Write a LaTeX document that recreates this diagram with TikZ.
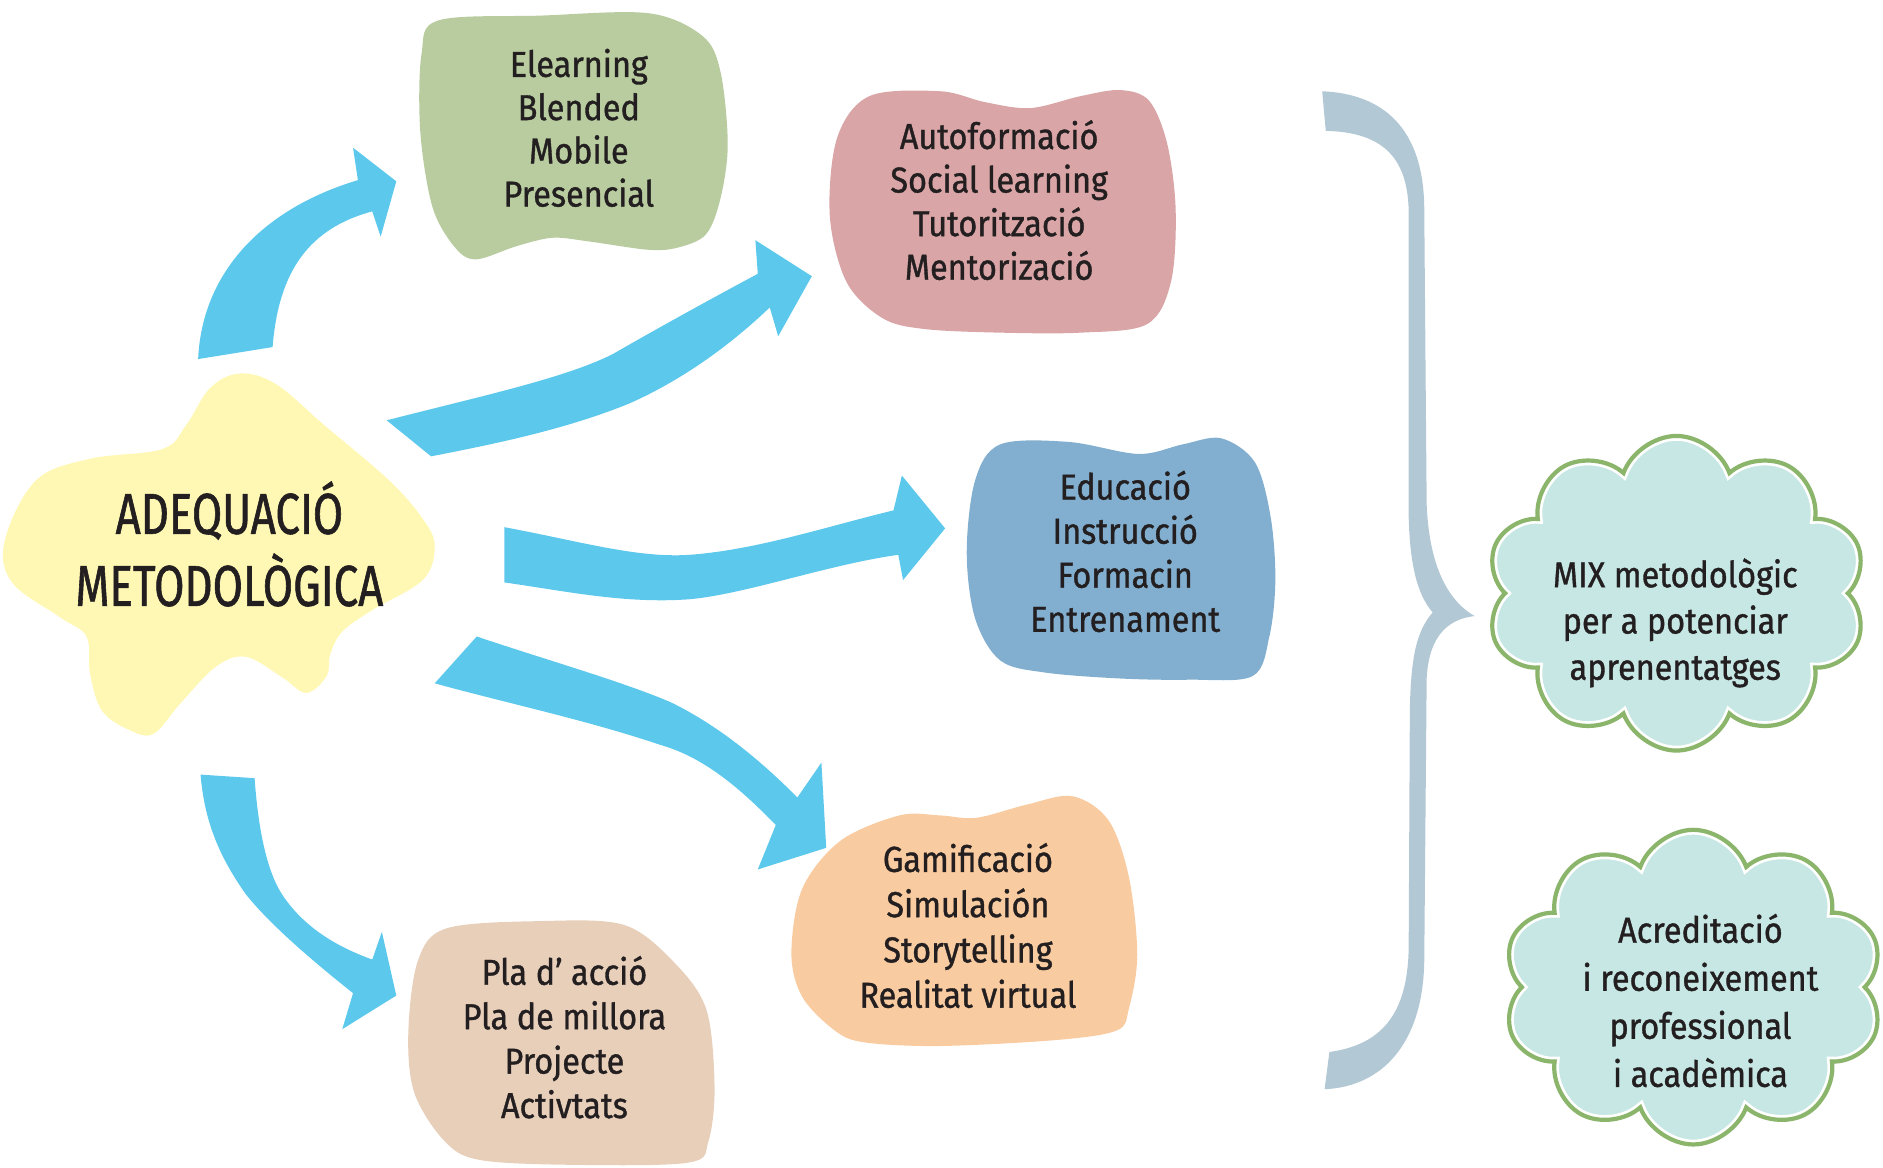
\documentclass[tikz,border=0pt]{standalone}
\usepackage{fontspec}
\setmainfont{Fira Sans}[FakeStretch=0.9,FakeBold=1]
\newfontfamily\titlefont{Fira Sans}[FakeStretch=0.76,FakeBold=1]
\usetikzlibrary{shapes.symbols}
\definecolor{ink}{HTML}{231F20}
\definecolor{yel}{HTML}{FFF8B4}
\definecolor{grn}{HTML}{B8CCA0}
\definecolor{pnk}{HTML}{D9A5A6}
\definecolor{blu}{HTML}{82AFCF}
\definecolor{org}{HTML}{F9CBA1}
\definecolor{bge}{HTML}{E8CFBA}
\definecolor{arr}{HTML}{5BC8EC}
\definecolor{brc}{HTML}{B3C8D5}
\definecolor{cfill}{HTML}{C6E7E4}
\definecolor{cline}{HTML}{8AB56A}
\begin{document}
\begin{tikzpicture}[x=1pt,y=-1pt,
  txt/.style={align=center,text=ink,inner sep=0pt,font=\fontsize{30}{#1}\selectfont},
  cloudsh/.style={cloud,cloud puffs=10,cloud puff arc=140,cloud ignores aspect,
    minimum width=317pt,minimum height=262pt,inner sep=0pt,shape border rotate=8}]
\useasboundingbox (0,0) rectangle (1568,972);

% ---- blobs ----
\fill[yel] plot[smooth cycle,tension=0.6] coordinates {(200,311) (230,320) (270,354) (324,400) (352,432) (362,455) (352,483) (310,508) (285,526) (275,545) (272,563) (255,577) (235,564) (205,547) (180,555) (150,586) (128,611) (108,608) (85,592) (75,561) (72,530) (50,514) (10,485) (4,450) (30,400) (75,382) (135,374) (155,354) (175,323)};

\fill[grn] plot[smooth cycle,tension=0.55] coordinates {(365,17) (450,13) (540,11) (585,30) (600,60) (606,120) (600,165) (588,195) (565,206) (540,208) (490,201) (460,198) (430,205) (396,216) (378,205) (360,172) (350,110) (351,45)};

\fill[pnk] plot[smooth cycle,tension=0.55] coordinates {(724,80) (783,76) (820,85) (858,90) (900,80) (933,75) (957,84) (972,120) (979,175) (975,235) (955,270) (900,277) (833,277) (770,274) (735,265) (705,235) (691,180) (697,115)};

\fill[blu] plot[smooth cycle,tension=0.55] coordinates {(833,370) (890,368) (948,378) (985,370) (1017,365) (1045,385) (1058,430) (1062,483) (1057,530) (1043,563) (990,566) (933,565) (870,560) (833,550) (812,515) (805,460) (812,400)};

\fill[org] plot[smooth cycle,tension=0.55] coordinates {(749,679) (783,679) (813,681) (855,670) (893,663) (923,683) (940,730) (947,795) (940,840) (930,858) (880,866) (783,871) (720,868) (695,858) (668,830) (659,794) (668,740) (700,700)};

\fill[bge] plot[smooth cycle,tension=0.55] coordinates {(372,773) (450,767) (519,770) (560,800) (588,840) (595,904) (590,950) (574,968) (480,970) (400,966) (370,950) (345,910) (340,860) (348,800)};

% ---- arrows ----
\fill[arr] (165,299) .. controls (168,230) and (215,175) .. (298,150) -- (294,123) -- (330,151) -- (317,197) -- (310,176) .. controls (258,190) and (232,225) .. (227,289) -- cycle;

\fill[arr] (322,350) .. controls (400,330) and (470,315) .. (510,295) .. controls (550,272) and (590,250) .. (631,228) -- (629,200) -- (676,230) -- (648,280) -- (641,256) .. controls (600,295) and (560,320) .. (524,336) .. controls (470,358) and (410,370) .. (359,380) -- cycle;

\fill[arr] (420,439) .. controls (480,450) and (530,465) .. (574,462) .. controls (630,458) and (690,438) .. (744,425) -- (751,396) -- (787,440) -- (752,483) -- (748,462) .. controls (690,470) and (620,495) .. (574,499) .. controls (520,503) and (470,492) .. (420,485) -- cycle;

\fill[arr] (397,530) .. controls (450,548) and (520,568) .. (559,585) .. controls (600,605) and (635,635) .. (664,664) -- (684,635) -- (688,706) -- (631,724) -- (646,687) .. controls (615,655) and (585,630) .. (549,620) .. controls (490,600) and (420,585) .. (362,569) -- cycle;

\fill[arr] (212,648) .. controls (215,690) and (222,725) .. (235,745) .. controls (255,775) and (285,790) .. (310,799) -- (318,776) -- (330,829) -- (285,857) -- (294,827) .. controls (260,800) and (225,770) .. (205,745) .. controls (180,710) and (170,680) .. (167,645) -- cycle;

% ---- brace ----
\fill[brc] (1101,76) .. controls (1150,78) and (1186,105) .. (1186,175) -- (1188,420)
  .. controls (1190,470) and (1205,500) .. (1228,513)
  .. controls (1210,515) and (1190,525) .. (1188,565) -- (1186,800)
  .. controls (1185,870) and (1150,905) .. (1103,907) -- (1107,876)
  .. controls (1150,870) and (1172,845) .. (1173,790) -- (1174,590)
  .. controls (1175,545) and (1180,525) .. (1193,510)
  .. controls (1180,495) and (1174,470) .. (1173,430) -- (1173,175)
  .. controls (1172,130) and (1150,110) .. (1104,109) -- cycle;

% ---- clouds ----
\node[cloudsh,fill=cfill,draw=white,line width=8pt] (c1bg) at (1396,494) {};
\node[cloudsh,draw=cline,line width=3.5pt] (c1) at (1396,494) {};
\node[cloudsh,fill=cfill,draw=white,line width=8pt] (c2bg) at (1410,822) {};
\node[cloudsh,draw=cline,line width=3.5pt] (c2) at (1410,822) {};

% ---- texts ----
\node[align=center,text=ink,inner sep=0pt,font=\titlefont\fontsize{48}{51}\selectfont] (title) at (191,460.3) {\strut ADEQUACIÓ\\METODOLÒGICA\strut};
\node[txt=36] (tg) at (482,110.8) {\strut Elearning\\Blended\\Mobile\\Presencial\strut};
\node[txt=36.3] (tp) at (832,171.2) {\strut Autoformació\\Social learning\\Tutorització\\Mentorizació\strut};
\node[txt=36.7] (tb) at (937,463.7) {\strut Educació\\Instrucció\\Formacin\\Entrenament\strut};
\node[txt=37.7] (to) at (806,775) {\strut Gamificació\\Simulación\\Storytelling\\Realitat virtual\strut};
\node[txt=37] (te) at (470,868.1) {\strut Pla d' acció\\Pla de millora\\Projecte\\Activtats\strut};
\node[txt=38.5] (tc1) at (1395,519.8) {\strut MIX metodològic\\per a potenciar\\aprenentatges\strut};
\node[txt=40] (tc2) at (1416,837) {\strut Acreditació\\i reconeixement\\professional\\i acadèmica\strut};
\end{tikzpicture}
\end{document}
